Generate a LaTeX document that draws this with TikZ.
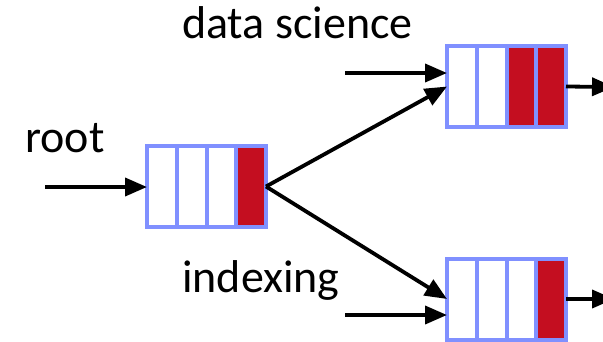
\documentclass[tikz,border=0pt]{standalone}
\usepackage{fontspec}
\setmainfont{Carlito}
\usetikzlibrary{arrows.meta,calc}
\definecolor{qblue}{RGB}{128,144,255}
\definecolor{qred}{RGB}{196,14,32}
\tikzset{
  queue/.style={draw=qblue, line width=4pt, minimum width=119pt, minimum height=81pt,
    inner sep=0pt, outer sep=0pt, fill=white},
  flow/.style={line width=3.8pt, -{Triangle[length=22pt,width=18pt]}},
  lbl/.style={font=\fontsize{46}{52}\selectfont, inner sep=0pt, anchor=base west},
}
% draws a queue of four slots; #2 = number of filled slots from the right
\newcommand{\slotqueue}[3]{%
  \node[queue] (#1) at (#3) {};
  \foreach \k in {1,...,#2}{%
    \fill[qred] ($(#1.north east)+(-\k*29.75pt+29.75pt,0)$) rectangle ++(-29.75pt,-81pt);
  }%
  \draw[qblue, line width=4pt] (#1.north west) rectangle (#1.south east);
  \foreach \k in {1,2,3}{%
    \draw[qblue, line width=4pt] ($(#1.north west)+(\k*29.75pt,0)$) -- ++(0,-81pt);
  }%
}
\begin{document}
\begin{tikzpicture}[x=1pt,y=-1pt]
\useasboundingbox (0,0) rectangle (603,341);
\clip (0,0) rectangle (603,341);
\slotqueue{root}{1}{206.5,186.5}
\slotqueue{ds}{2}{506.5,86.5}
\slotqueue{ix}{1}{506.5,299}

\node[lbl] (tds) at (182,38) {data science};
\node[lbl] (troot) at (25,152) {root};
\node[lbl] (tix) at (182,292) {indexing};

\coordinate (inroot) at (45,187);
\coordinate (inds) at (345,73);
\coordinate (inix) at (345,315);
\coordinate (outds) at (614,87);
\coordinate (outix) at (614,299);

\draw[flow] (inroot) -- (root.west |- inroot);
\draw[flow] (inds) -- (ds.west |- inds);
\draw[flow] (inix) -- (ix.west |- inix);
\draw[flow] (root.east) -- (ds.west);
\draw[flow] (root.east) -- (ix.west);
\draw[flow] (ds.east) -- (outds);
\draw[flow] (ix.east) -- (outix);
\end{tikzpicture}
\end{document}
